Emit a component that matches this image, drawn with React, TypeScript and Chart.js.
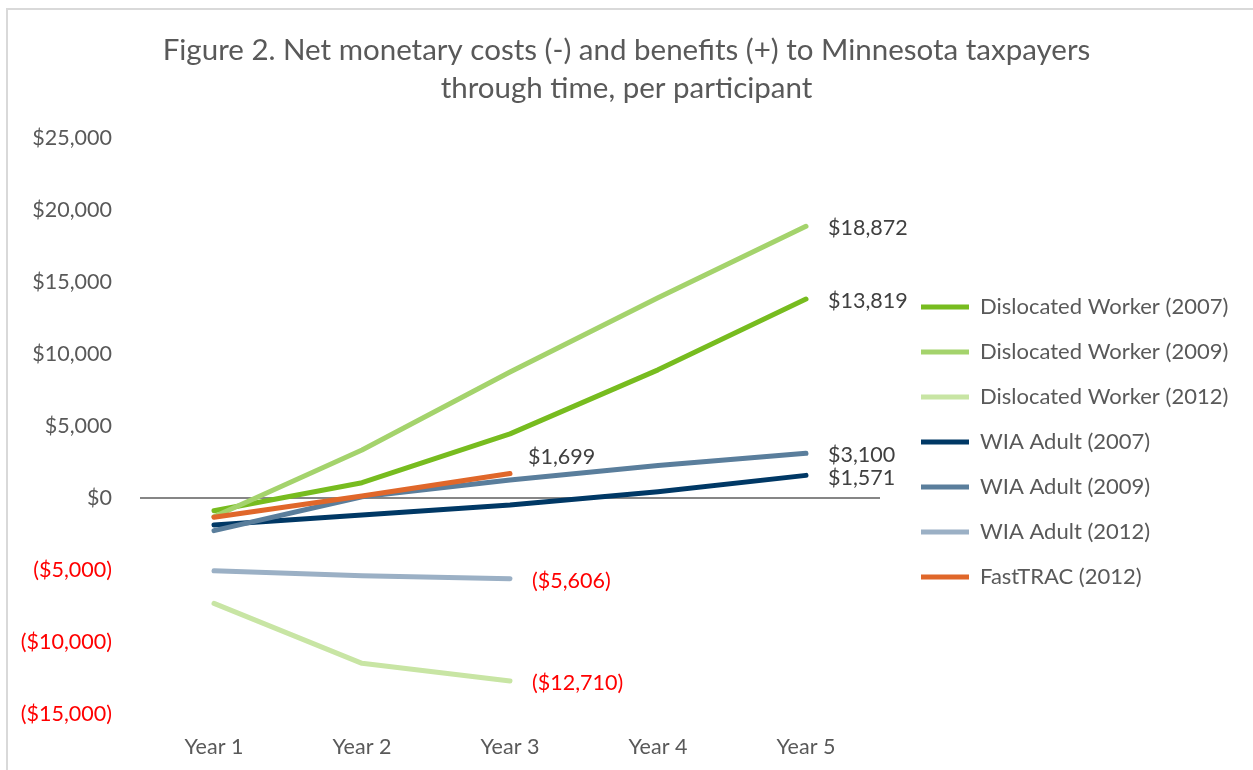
import React, { useEffect, useRef } from 'react';
import { Chart, registerables } from 'chart.js';

Chart.register(...registerables);

const FONT = 'Lato';
const TEXT = '#595959';

const categories = ['Year 1', 'Year 2', 'Year 3', 'Year 4', 'Year 5'];
const seriesNames = [
  'Dislocated Worker (2007)',
  'Dislocated Worker (2009)',
  'Dislocated Worker (2012)',
  'WIA Adult (2007)',
  'WIA Adult (2009)',
  'WIA Adult (2012)',
  'FastTRAC (2012)',
];
const dw2007 = [-880, 1060, 4450, 8900, 13819];
const dw2009 = [-1300, 3330, 8750, 13900, 18872];
const dw2012 = [-7320, -11480, -12710, null, null];
const wia2007 = [-1875, -1180, -490, 430, 1571];
const wia2009 = [-2270, 90, 1250, 2250, 3100];
const wia2012 = [-5050, -5400, -5606, null, null];
const fastTrac = [-1340, 140, 1699, null, null];
const yTickMin = -15000;
const yTickMax = 25000;
const yTickStep = 5000;
const titleLines = [
  'Figure 2. Net monetary costs (-) and benefits (+) to Minnesota taxpayers',
  'through time, per participant',
];

const seriesValues = [dw2007, dw2009, dw2012, wia2007, wia2009, wia2012, fastTrac];
const seriesColors = ['#77BC1F', '#A4D36C', '#C8E5A4', '#003865', '#5A7E9C', '#9BB0C5', '#E0672A'];
const labelDy = [2, 2, 2, 3, 2, 2, -16];
const labelDx = [22, 22, 22, 22, 22, 22, 18];

const fmt = (v: number) => {
  const s = Math.abs(v).toLocaleString('en-US');
  return v < 0 ? `($${s})` : `$${s}`;
};

const LEGEND_W = 373;
const LEGEND_SHIFT_X = 18;
const LEGEND_SHIFT_Y = 16;

const legendFixPlugin = {
  id: 'legendFix',
  beforeLayout(chart: any) {
    const l = chart.legend;
    if (l && !l.__patched) {
      const f = l.fit.bind(l);
      l.fit = () => {
        f();
        l.width = LEGEND_W;
      };
      l.__patched = true;
    }
  },
  afterLayout(chart: any) {
    const l = chart.legend;
    if (l) {
      l.left += LEGEND_SHIFT_X;
      l.right += LEGEND_SHIFT_X;
      l.top += LEGEND_SHIFT_Y;
      l.bottom += LEGEND_SHIFT_Y;
    }
  },
};

const endLabelPlugin = {
  id: 'endLabels',
  afterDatasetsDraw(chart: any) {
    const ctx = chart.ctx;
    chart.data.datasets.forEach((ds: any, i: number) => {
      const meta = chart.getDatasetMeta(i);
      let idx = -1;
      ds.data.forEach((v: any, j: number) => {
        if (v !== null && v !== undefined) idx = j;
      });
      if (idx < 0) return;
      const pt = meta.data[idx];
      const v = ds.data[idx] as number;
      ctx.save();
      ctx.font = `21.5px ${FONT}`;
      ctx.fillStyle = v < 0 ? '#FF0000' : '#404040';
      ctx.textAlign = 'left';
      ctx.textBaseline = 'middle';
      ctx.fillText(fmt(v), pt.x + labelDx[i], pt.y + labelDy[i]);
      ctx.restore();
    });
  },
};

export default function App() {
  const ref = useRef<HTMLCanvasElement>(null);
  useEffect(() => {
    const chart = new Chart(ref.current as HTMLCanvasElement, {
      type: 'line',
      data: {
        labels: categories,
        datasets: seriesNames.map((name, i) => ({
          label: name,
          data: seriesValues[i],
          borderColor: seriesColors[i],
          backgroundColor: seriesColors[i],
          borderWidth: 5,
          borderCapStyle: 'round',
          borderJoinStyle: 'round',
          pointRadius: 0,
          tension: 0,
          spanGaps: false,
          order: seriesNames.length - i,
        })),
      },
      options: {
        responsive: false,
        animation: false,
        devicePixelRatio: 1,
        layout: { padding: { left: 0, right: 0, top: 0, bottom: 0 } },
        plugins: {
          title: {
            display: true,
            text: titleLines,
            color: TEXT,
            font: { family: FONT, size: 29.5, weight: 'normal', lineHeight: 1.288 },
            padding: { top: 31, bottom: 31 },
          },
          legend: {
            position: 'right',
            fullSize: false,
            labels: {
              usePointStyle: true,
              pointStyle: 'line',
              pointStyleWidth: 48,
              boxHeight: 4,
              padding: 23,
              color: TEXT,
              font: { family: FONT, size: 22 },
              sort: (a: any, b: any) => a.datasetIndex - b.datasetIndex,
            },
          },
          tooltip: { enabled: false },
        },
        scales: {
          x: {
            type: 'category',
            offset: true,
            grid: { display: false, drawTicks: false },
            border: { display: false },
            ticks: { color: TEXT, font: { family: FONT, size: 21.5 }, padding: 20 },
            afterFit: (s: any) => {
              s.height = 56;
            },
          },
          y: {
            min: yTickMin,
            max: yTickMax,
            ticks: {
              stepSize: yTickStep,
              callback: (v: any) => fmt(Number(v)),
              color: (c: any) => (c.tick && c.tick.value < 0 ? '#FF0000' : TEXT),
              font: { family: FONT, size: 21.5 },
              padding: 28,
            },
            grid: {
              drawTicks: false,
              color: (c: any) => (c.tick && c.tick.value === 0 ? '#868686' : 'rgba(0,0,0,0)'),
              lineWidth: 2,
            },
            border: { display: false },
            afterFit: (s: any) => {
              s.width = 140;
            },
          },
        },
      },
      plugins: [legendFixPlugin, endLabelPlugin],
    } as any);
    return () => chart.destroy();
  }, []);

  return (
    <div style={{ position: 'fixed', left: 0, top: 0, width: 1253, height: 770, background: '#fff', overflow: 'hidden' }}>
      <div
        style={{
          position: 'absolute',
          left: 6,
          top: 8,
          right: -10,
          bottom: -10,
          borderTop: '2px solid #d9d9d9',
          borderLeft: '2px solid #d9d9d9',
        }}
      />
      <canvas
        ref={ref}
        width={1253}
        height={770}
        style={{ position: 'absolute', left: 0, top: 0, width: 1253, height: 770 }}
      />
    </div>
  );
}
